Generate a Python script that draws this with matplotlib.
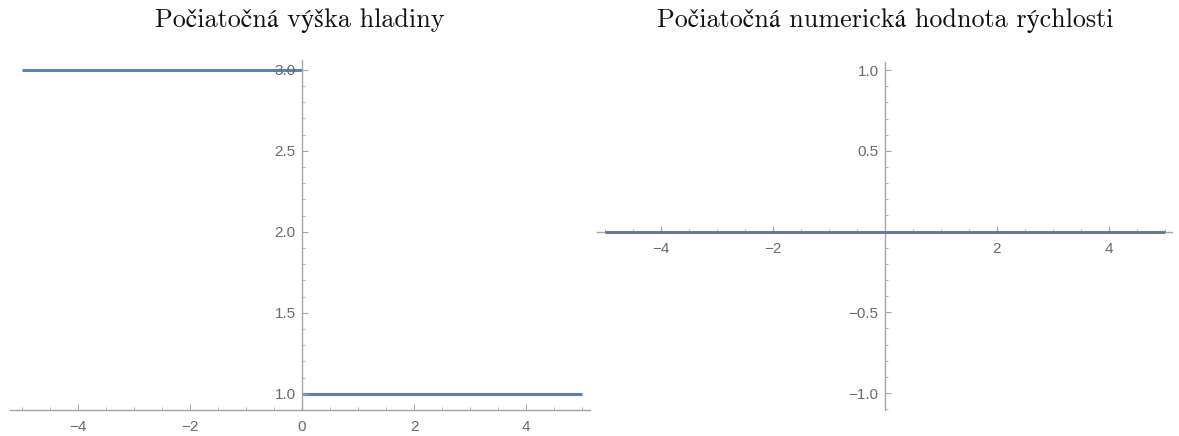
import matplotlib
matplotlib.use("Agg")
import matplotlib.pyplot as plt
from matplotlib.ticker import MultipleLocator, FixedLocator, FuncFormatter

# data
x_left_neg = [-5, 0]
h_left_neg = [3, 3]
x_left_pos = [0, 5]
h_left_pos = [1, 1]
x_right = [-5, 5]
v_right = [0, 0]
titles = ["Počiatočná výška hladiny", "Počiatočná numerická hodnota rýchlosti"]
x_major = [-4, -2, 0, 2, 4]
y_major_left = [1.0, 1.5, 2.0, 2.5, 3.0]
y_major_right = [-1.0, -0.5, 0.0, 0.5, 1.0]

W, H = 1179, 436
fig = plt.figure(figsize=(W / 100, H / 100), dpi=100)

LINE = "#5E81B5"
AXC = "#a6a6a6"
LBL = "#6a6a6a"

def fmt_num(v, pos):
    s = f"{v:.1f}"
    return s.replace("-", "\u2212")

def fmt_int(v, pos):
    s = f"{v:.0f}"
    return s.replace("-", "\u2212")

def style(ax):
    for s in ["top", "right"]:
        ax.spines[s].set_visible(False)
    for s in ["left", "bottom"]:
        ax.spines[s].set_color(AXC)
        ax.spines[s].set_linewidth(1.0)
    ax.tick_params(which="both", direction="in", color=AXC, labelcolor=LBL,
                   labelsize=11)
    ax.tick_params(which="major", length=4.5, width=0.8, pad=4.5)
    ax.tick_params(axis="x", which="major", pad=7.5)
    ax.tick_params(which="minor", length=2.5, width=0.6)
    for lab in ax.get_xticklabels() + ax.get_yticklabels():
        lab.set_family("Liberation Sans")
    ax.patch.set_visible(False)

# left panel
axL = fig.add_axes([9.6 / W, 1 - 410 / H, (590 - 9.6) / W, (410 - 60) / H])
axL.plot(x_left_neg, h_left_neg, color=LINE, lw=2.2, solid_capstyle="butt", zorder=1)
axL.plot(x_left_pos, h_left_pos, color=LINE, lw=2.2, solid_capstyle="butt", zorder=1)
axL.set_xlim(-5.22, 5.14)
axL.set_ylim(0.9, 3.06)
axL.spines["left"].set_position(("data", 0))
axL.xaxis.set_major_locator(FixedLocator(x_major))
axL.xaxis.set_minor_locator(MultipleLocator(0.5))
axL.yaxis.set_major_locator(FixedLocator(y_major_left))
axL.yaxis.set_minor_locator(MultipleLocator(0.1))
axL.xaxis.set_major_formatter(FuncFormatter(fmt_int))
axL.yaxis.set_major_formatter(FuncFormatter(fmt_num))
style(axL)

# right panel
axR = fig.add_axes([597 / W, 1 - 410 / H, (1172 - 597) / W, (410 - 62) / H])
axR.plot(x_right, v_right, color="#5a7196", lw=2.2, solid_capstyle="butt", zorder=3,
         alpha=0.9)
axR.set_xlim(-5.14, 5.125)
axR.set_ylim(-1.105, 1.05)
axR.spines["left"].set_position(("data", 0))
axR.spines["bottom"].set_position(("data", 0))
axR.xaxis.set_major_locator(FixedLocator([v for v in x_major if v != 0]))
axR.xaxis.set_minor_locator(MultipleLocator(0.5))
axR.yaxis.set_major_locator(FixedLocator([v for v in y_major_right if v != 0]))
axR.yaxis.set_minor_locator(MultipleLocator(0.1))
axR.xaxis.set_major_formatter(FuncFormatter(fmt_int))
axR.yaxis.set_major_formatter(FuncFormatter(fmt_num))
style(axR)

TFAM = ["cmr10", "STIXGeneral"]
fig.text(300 / W, 1 - 21 / H, titles[0], ha="center", va="center",
         fontsize=18.8, family=TFAM, color="#111111")
fig.text(885 / W, 1 - 21 / H, titles[1], ha="center", va="center",
         fontsize=18.8, family=TFAM, color="#111111")

fig.savefig("out.png", dpi=100)
